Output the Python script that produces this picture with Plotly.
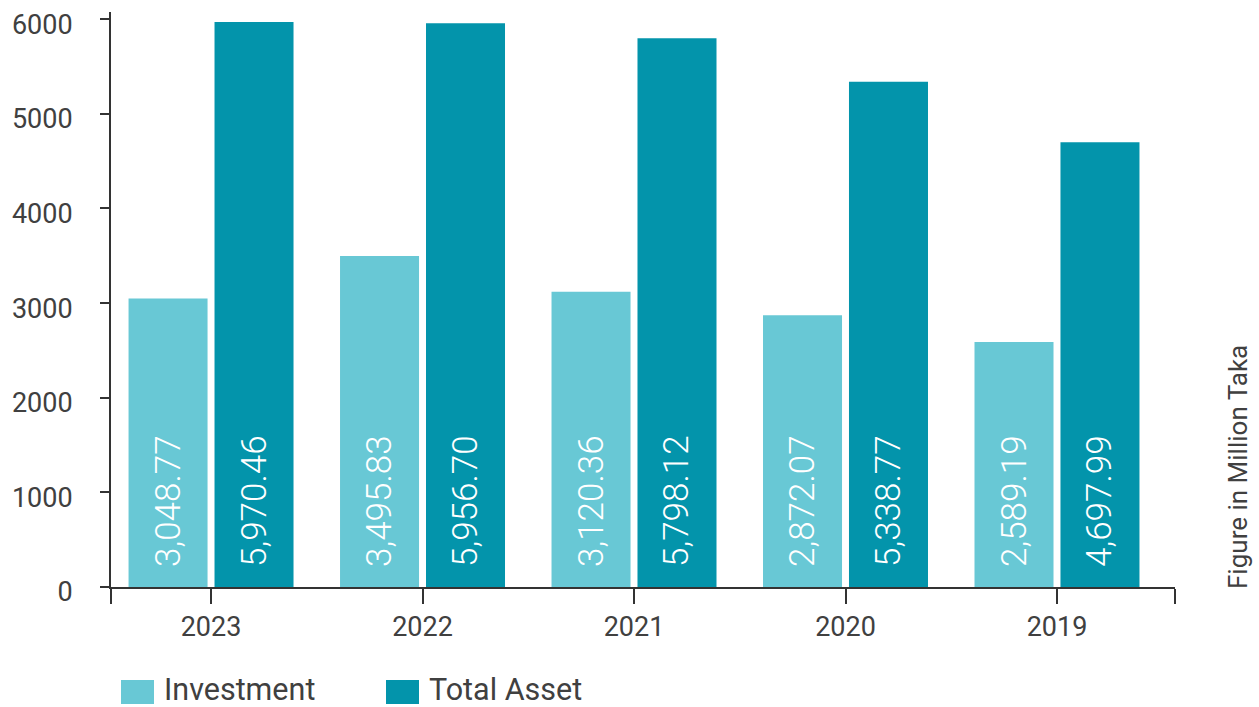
import plotly.graph_objects as go

# Data (Figure in Million Taka)
years = ["2023", "2022", "2021", "2020", "2019"]
investment = [3048.77, 3495.83, 3120.36, 2872.07, 2589.19]
total_asset = [5970.46, 5956.70, 5798.12, 5338.77, 4697.99]

series_names = ["Investment", "Total Asset"]
series_colors = ["#68C8D5", "#0394AB"]

FONT = "Roboto"
TEXT_GREY = "#404040"

xpos = list(range(len(years)))

fig = go.Figure()
for name, vals, color in zip(series_names, [investment, total_asset], series_colors):
    fig.add_trace(go.Bar(
        x=xpos,
        y=vals,
        name=name,
        marker=dict(color=color, line=dict(width=0)),
        text=[f"{v:,.2f}" for v in vals],
        # leading non-breaking spaces lift the rotated label off the bar base
        texttemplate="\u00a0\u00a0%{text}",
        textposition="inside",
        insidetextanchor="start",
        textangle=-90,
        textfont=dict(family=FONT, size=35, color="white", weight=300),
        showlegend=False,
        hoverinfo="x+y+name",
    ))

# x ticks: group centres plus the two axis ends
x_lo, x_hi = -0.473, 4.558
fig.update_xaxes(
    range=[x_lo, x_hi],
    tickmode="array",
    tickvals=[x_lo] + xpos + [x_hi],
    ticktext=[""] + years + [""],
    ticks="outside",
    ticklen=15,
    tickwidth=2,
    tickcolor="#333333",
    showline=True,
    linecolor="#333333",
    linewidth=2,
    showgrid=False,
    zeroline=False,
    automargin=False,
    tickfont=dict(family=FONT, size=27, color=TEXT_GREY),
    ticklabelstandoff=0,
)
fig.update_yaxes(
    range=[0, 6075],
    tickmode="array",
    tickvals=[0, 1000, 2000, 3000, 4000, 5000, 6000],
    ticks="outside",
    ticklen=9,
    tickwidth=2,
    tickcolor="#333333",
    showline=True,
    linecolor="#333333",
    linewidth=2,
    showgrid=False,
    zeroline=False,
    automargin=False,
    tickfont=dict(family=FONT, size=27, color=TEXT_GREY),
    ticklabelstandoff=22,
    ticklabelshift=5,
)

# Legend drawn as large swatches with labels below the plot
legend_items = [
    (series_names[0], series_colors[0], 121),
    (series_names[1], series_colors[1], 386),
]
L, R, T, B = 111, 84, 12, 120
W, H = 1259, 707
pw, ph = W - L - R, H - T - B


def px_x(px):
    return (px - L) / pw


def px_y(py):
    return (H - B - py) / ph


for name, color, left in legend_items:
    fig.add_shape(
        type="rect", xref="paper", yref="paper",
        x0=px_x(left), x1=px_x(left + 33), y0=px_y(704), y1=px_y(680),
        fillcolor=color, line=dict(width=0),
    )
    fig.add_annotation(
        text=name, xref="paper", yref="paper",
        x=px_x(left + 41), y=px_y(689), xanchor="left", yanchor="middle",
        showarrow=False, font=dict(family=FONT, size=30.5, color=TEXT_GREY),
    )

fig.add_annotation(
    text="Figure in Million Taka", xref="paper", yref="paper",
    x=px_x(1238), y=px_y(591), xanchor="center", yanchor="bottom",
    textangle=-90, showarrow=False,
    font=dict(family=FONT, size=26, color=TEXT_GREY),
)

fig.update_layout(
    width=W, height=H,
    margin=dict(l=L, r=R, t=T, b=B),
    barmode="group",
    bargap=0.187,
    bargroupgap=0.081,
    paper_bgcolor="white",
    plot_bgcolor="white",
    uniformtext=dict(minsize=35, mode="show"),
    font=dict(family=FONT),
)

fig.write_html("out.html", config={"displayModeBar": False})
